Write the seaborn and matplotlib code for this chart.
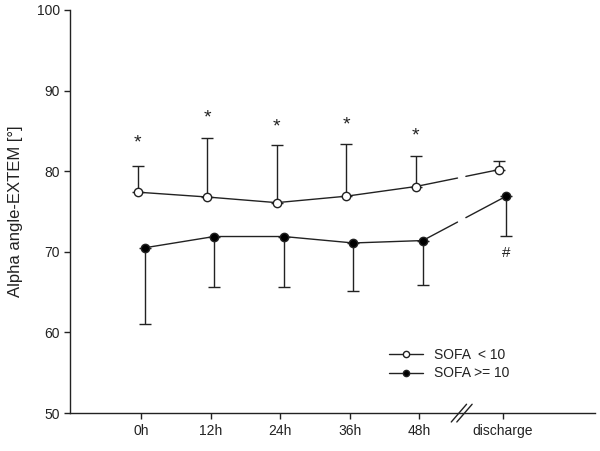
import numpy as np
import pandas as pd
import matplotlib
matplotlib.use("Agg")
import matplotlib.pyplot as plt
import seaborn as sns

# data
timepoints = ["0h", "12h", "24h", "36h", "48h", "discharge"]
x_pos = [0, 1, 2, 3, 4, 5.2]
low_mean = [77.4, 76.8, 76.1, 76.9, 78.1, 80.2]
low_upper = [80.7, 84.1, 83.2, 83.4, 81.9, 81.3]
high_mean = [70.5, 71.9, 71.9, 71.1, 71.4, 76.9]
high_lower = [61.0, 65.7, 65.6, 65.2, 65.9, 72.0]
star_y = [83.5, 86.6, 85.5, 85.7, 84.4]
hash_y = 69.8
x_break = 4.61

sns.set_style("ticks")
plt.rcParams["font.family"] = ["Liberation Sans", "DejaVu Sans"]

fig = plt.figure(figsize=(6, 4.51), dpi=100)
ax = fig.add_axes([0.117, 0.084, 0.875, 0.894])

shift = 0.05
col = "#222222"
df = pd.DataFrame({"x": x_pos, "low": low_mean, "high": high_mean})


def draw_series(xs, ys, face, label):
    xs = np.asarray(xs, dtype=float)
    ys = np.asarray(ys, dtype=float)
    # first five points as a continuous line
    sns.lineplot(x=xs[:5], y=ys[:5], ax=ax, color=col, lw=1.0,
                 marker="o", markersize=6, markerfacecolor=face,
                 markeredgecolor=col, markeredgewidth=1.0, zorder=3,
                 label=label)
    # segment across the axis break, with a gap
    g0, g1 = x_break - 0.06, x_break + 0.06
    y0 = np.interp(g0, xs[4:], ys[4:])
    y1 = np.interp(g1, xs[4:], ys[4:])
    ax.plot([xs[4], g0], [ys[4], y0], color=col, lw=1.0, zorder=2)
    ax.plot([g1, xs[5]], [y1, ys[5]], color=col, lw=1.0, zorder=2)
    ax.plot(xs[5], ys[5], "o", ms=6, mfc=face, mec=col, mew=1.0, zorder=3)


lx = df["x"] - shift
hx = df["x"] + shift
ax.errorbar(lx, low_mean,
            yerr=[np.zeros(6), np.array(low_upper) - np.array(low_mean)],
            fmt="none", ecolor=col, elinewidth=1.0, capsize=4, capthick=1.0, zorder=1)
ax.errorbar(hx, high_mean,
            yerr=[np.array(high_mean) - np.array(high_lower), np.zeros(6)],
            fmt="none", ecolor=col, elinewidth=1.0, capsize=4, capthick=1.0, zorder=1)

draw_series(lx, low_mean, "white", "SOFA  < 10")
draw_series(hx, high_mean, "black", "SOFA >= 10")

for xi, yi in zip(lx[:5], star_y):
    ax.text(xi, yi, "*", ha="center", va="center", fontsize=14, color=col)
ax.text(hx.iloc[5], hash_y, "#", ha="center", va="center", fontsize=11, color=col)

ax.set_xlim(-1.02, 6.53)
ax.set_ylim(50, 100)
ax.set_xticks(x_pos)
ax.set_xticklabels(timepoints)
ax.set_yticks(np.arange(50, 101, 10))
ax.tick_params(axis="both", labelsize=10, colors=col, length=4, width=1.0)
ax.set_ylabel("Alpha angle-EXTEM [°]", fontsize=12, color=col, labelpad=10)
ax.set_xlabel("")
sns.despine(ax=ax)
for s in ["left", "bottom"]:
    ax.spines[s].set_color(col)
    ax.spines[s].set_linewidth(1.0)

# axis break marks on x axis
trans = ax.get_xaxis_transform()
for dx in (-0.04, 0.04):
    ax.plot([x_break + dx - 0.11, x_break + dx + 0.11], [-0.022, 0.022],
            color=col, lw=1.0, transform=trans, clip_on=False, zorder=6)

leg = ax.legend(loc="lower right", bbox_to_anchor=(0.86, 0.05), frameon=False,
                fontsize=10, handlelength=2.4, labelspacing=0.3)
for t in leg.get_texts():
    t.set_color(col)
for h in leg.legend_handles:
    h.set_markersize(4.5)

fig.savefig("out.png", dpi=100)
